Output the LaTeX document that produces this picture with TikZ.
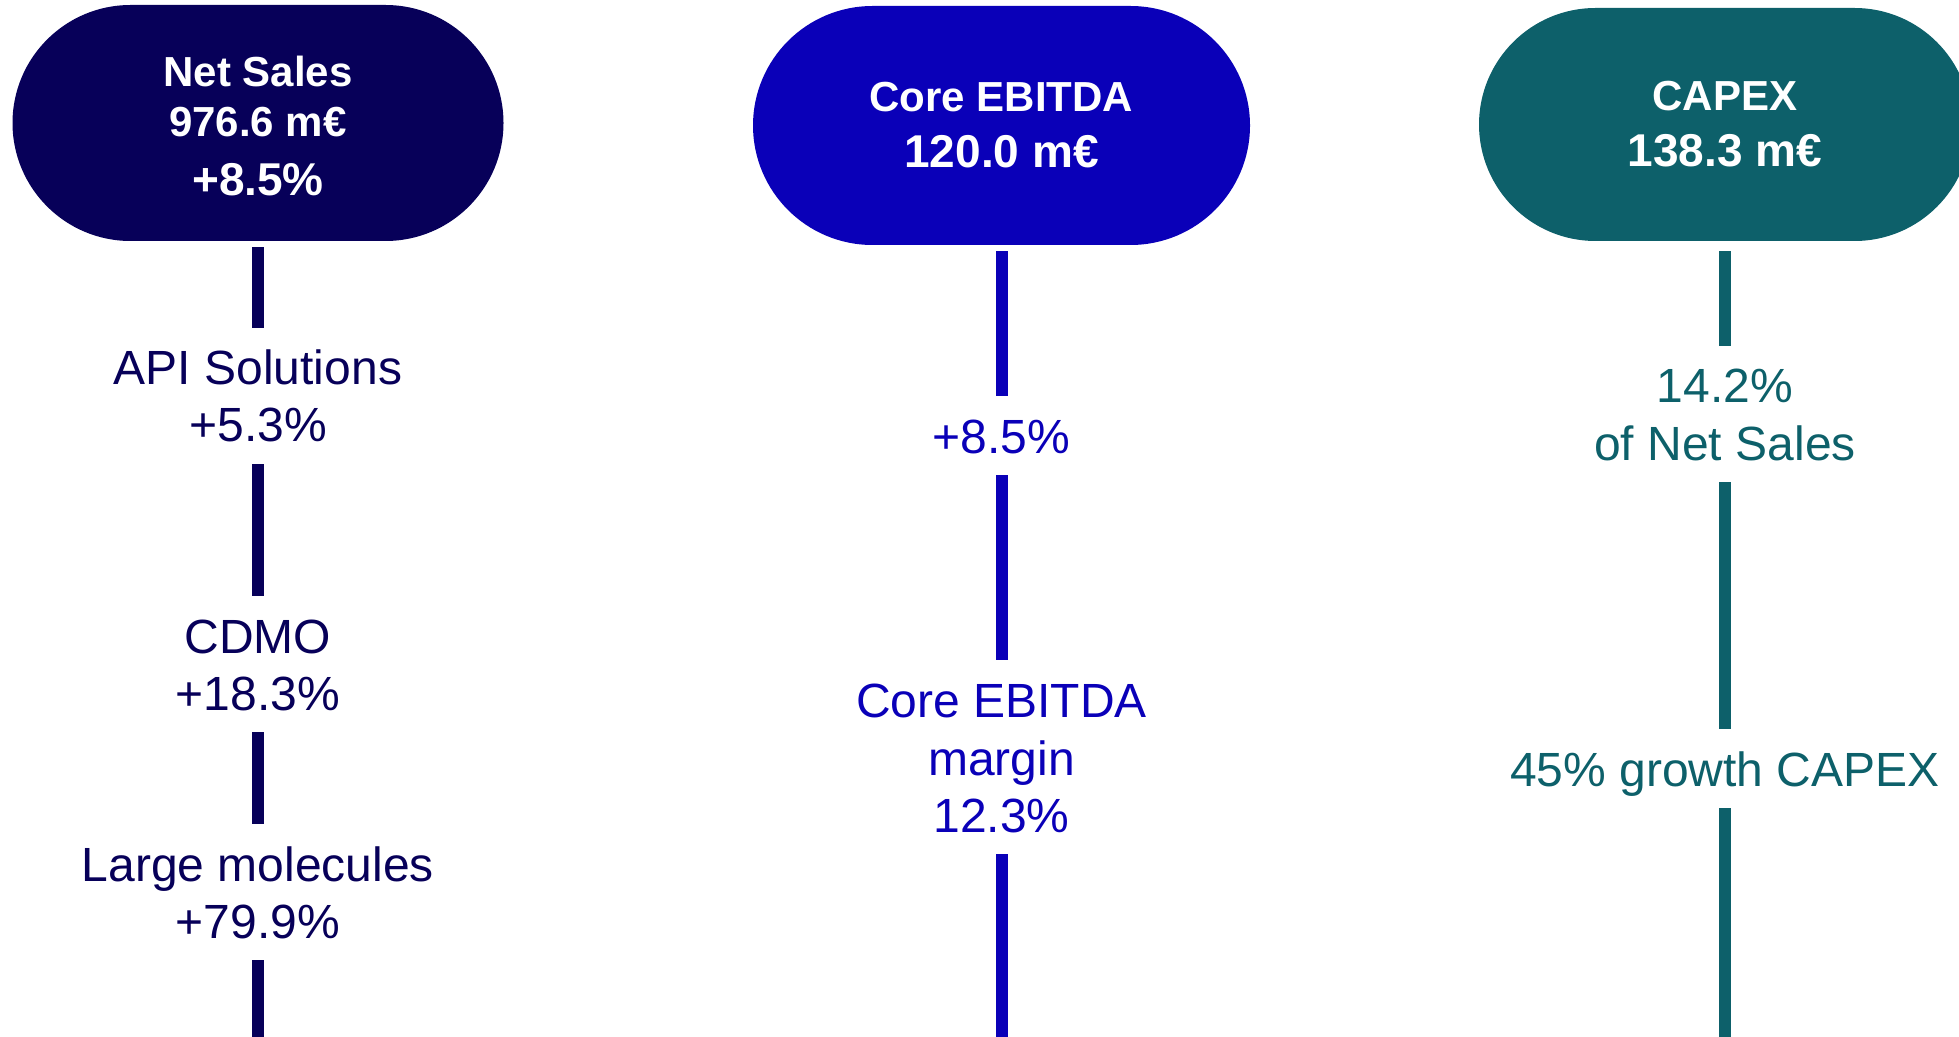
\documentclass[tikz,border=0pt]{standalone}
\usepackage{fontspec}
\setmainfont{Liberation Sans}
\usetikzlibrary{shapes.misc}
\definecolor{kpiNavy}{HTML}{070059}
\definecolor{kpiBlue}{HTML}{0A00B8}
\definecolor{kpiTeal}{HTML}{0D606A}
\newcommand{\kpibig}[1]{{\fontsize{23}{28}\selectfont #1}}
\begin{document}
\begin{tikzpicture}[x=0.5pt,y=-0.5pt,
  pill/.style={rounded rectangle, inner sep=0pt, draw=none, text=white, align=center,
    font=\bfseries\fontsize{21}{25.75}\selectfont},
  lbl/.style={inner sep=0pt, anchor=base, text height=17.2pt, text depth=0pt,
    font=\fontsize{24}{28.5}\selectfont},
  seg/.style={line width=6pt, shorten <=11pt, shorten >=11pt}]
\useasboundingbox (0,0) rectangle (1959,1037);

% headline figures
\node[pill, fill=kpiNavy, minimum width=245.5pt, minimum height=118pt] (ns) at (258,123)
  {\rule{0pt}{18.1pt}Net Sales\\[-0.5pt]976.6 m€\\[3.45pt]\kpibig{+8.5\%}};
\node[pill, fill=kpiBlue, minimum width=248.5pt, minimum height=119.5pt] (ce) at (1001.5,125.5)
  {Core EBITDA\\[2.25pt]\kpibig{120.0 m€}};
\node[pill, fill=kpiTeal, minimum width=246pt, minimum height=116.5pt] (cx) at (1725,124.5)
  {CAPEX\\[2.25pt]\kpibig{138.3 m€}};

% net sales breakdown
\begin{scope}[every node/.style={lbl, text=kpiNavy}]
  \node (api)   at (258,385) {API Solutions};
  \node (apiv)  at (258,442) {+5.3\%};
  \node (cdmo)  at (258,653) {CDMO};
  \node (cdmov) at (258,710) {+18.3\%};
  \node (lm)    at (258,881) {Large molecules};
  \node (lmv)   at (258,938) {+79.9\%};
\end{scope}
\coordinate (end1) at (258,1037);

% core EBITDA details
\begin{scope}[every node/.style={lbl, text=kpiBlue}]
  \node (ebv)  at (1001.5,453) {+8.5\%};
  \node (cem1) at (1001.5,717) {Core EBITDA};
  \node (cem2) at (1001.5,775) {margin};
  \node (cem3) at (1001.5,832) {12.3\%};
\end{scope}
\coordinate (end2) at (1001.5,1037);

% CAPEX details
\begin{scope}[every node/.style={lbl, text=kpiTeal}]
  \node (cps1) at (1725,403) {14.2\%};
  \node (cps2) at (1725,460) {of Net Sales};
  \node (cpg)  at (1725,786) {45\% growth CAPEX};
\end{scope}
\coordinate (end3) at (1725,1037);

% connectors
\draw[seg, kpiNavy, shorten <=3pt] (ns.south) -- (api.north);
\draw[seg, kpiNavy] (apiv.south) -- (cdmo.north);
\draw[seg, kpiNavy] (cdmov.south) -- (lm.north);
\draw[seg, kpiNavy, shorten >=0pt] (lmv.south) -- (end1);

\draw[seg, kpiBlue, shorten <=3pt] (ce.south) -- (ebv.north);
\draw[seg, kpiBlue] (ebv.south) -- (cem1.north);
\draw[seg, kpiBlue, shorten >=0pt] (cem3.south) -- (end2);

\draw[seg, kpiTeal, shorten <=5pt] (cx.south) -- (cps1.north);
\draw[seg, kpiTeal] (cps2.south) -- (cpg.north);
\draw[seg, kpiTeal, shorten >=0pt] (cpg.south) -- (end3);
\end{tikzpicture}
\end{document}
